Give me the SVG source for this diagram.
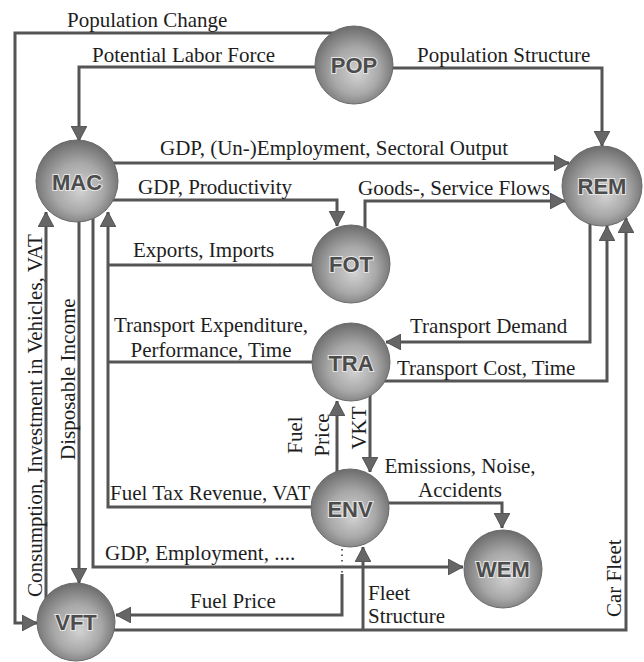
<svg xmlns="http://www.w3.org/2000/svg" width="644" height="662" viewBox="0 0 644 662">
<style>
.c{fill:none;stroke:#555;stroke-width:3}
.d{fill:none;stroke:#666;stroke-width:2;stroke-dasharray:1.5 4}
.t{font-family:"Liberation Serif","Times New Roman",serif;font-size:21px;fill:#1e1e1e}
.n{fill:url(#sph);stroke:#6a6a6a;stroke-width:1}
.l{font-family:"Liberation Sans",Arial,sans-serif;font-size:22px;font-weight:bold;fill:#4c4c4c;stroke:#e6e6e6;stroke-width:2;paint-order:stroke;text-anchor:middle}
</style>
<defs>
<radialGradient id="sph" cx="50%" cy="55%" r="55%" fx="55%" fy="62%">
<stop offset="0" stop-color="#d2d2d2"/>
<stop offset="0.55" stop-color="#a8a8a8"/>
<stop offset="1" stop-color="#6c6c6c"/>
</radialGradient>
<marker id="a" markerUnits="userSpaceOnUse" markerWidth="16" markerHeight="16" refX="15" refY="8" orient="auto">
<path d="M0,0 L15,8 L0,16 Z" fill="#666" stroke="#444" stroke-width="0.8"/>
</marker>
</defs>
<g id="connectors">
<path class="c" d="M354 33 H15 V623 H37" marker-end="url(#a)"/>
<path class="c" d="M354 67 H79 V141" marker-end="url(#a)"/>
<path class="c" d="M354 68 H602 V146" marker-end="url(#a)"/>
<path class="c" d="M77 163 H569" marker-end="url(#a)"/>
<path class="c" d="M77 200 H337 V226" marker-end="url(#a)"/>
<path class="c" d="M365 264 V201 H565" marker-end="url(#a)"/>
<path class="c" d="M351 265 H108"/>
<path class="c" d="M351 362 H108"/>
<path class="c" d="M350 507 H108 V212" marker-end="url(#a)"/>
<path class="c" d="M93 181 V567 H463" marker-end="url(#a)"/>
<path class="c" d="M79 181 V583" marker-end="url(#a)"/>
<path class="c" d="M46 600 V212" marker-end="url(#a)"/>
<path class="c" d="M590 186 V342 H386" marker-end="url(#a)"/>
<path class="c" d="M351 381 H607 V226" marker-end="url(#a)"/>
<path class="c" d="M337 508 V401" marker-end="url(#a)"/>
<path class="c" d="M370 362 V472" marker-end="url(#a)"/>
<path class="c" d="M350 503 H502 V528" marker-end="url(#a)"/>
<path class="d" d="M342 549 V574"/>
<path class="c" d="M342 574 V615 H116" marker-end="url(#a)"/>
<path class="c" d="M76 630 H626 V218" marker-end="url(#a)"/>
<path class="c" d="M363 630 V547" marker-end="url(#a)"/>
</g>
<g id="POP"><circle class="n" cx="354" cy="65" r="39"/><text class="l" x="354" y="73">POP</text></g>
<g id="MAC"><circle class="n" cx="77" cy="181" r="41"/><text class="l" x="77" y="190">MAC</text></g>
<g id="REM"><circle class="n" cx="602" cy="186" r="40"/><text class="l" x="602" y="194">REM</text></g>
<g id="FOT"><circle class="n" cx="351" cy="264" r="39"/><text class="l" x="351" y="272">FOT</text></g>
<g id="TRA"><circle class="n" cx="351" cy="362" r="39"/><text class="l" x="351" y="371">TRA</text></g>
<g id="ENV"><circle class="n" cx="350" cy="508" r="39"/><text class="l" x="350" y="517">ENV</text></g>
<g id="WEM"><circle class="n" cx="503" cy="569" r="39"/><text class="l" x="503" y="577">WEM</text></g>
<g id="VFT"><circle class="n" cx="76" cy="622" r="39"/><text class="l" x="76" y="630">VFT</text></g>
<g id="labels">
<text class="t" x="67" y="27">Population Change</text>
<text class="t" x="92" y="62">Potential Labor Force</text>
<text class="t" x="417" y="62">Population Structure</text>
<text class="t" x="160" y="155">GDP, (Un-)Employment, Sectoral Output</text>
<text class="t" x="138" y="194">GDP, Productivity</text>
<text class="t" x="358" y="195">Goods-, Service Flows</text>
<text class="t" x="133" y="257">Exports, Imports</text>
<text class="t" x="211" y="332" text-anchor="middle">Transport Expenditure,</text>
<text class="t" x="211" y="357" text-anchor="middle">Performance, Time</text>
<text class="t" x="410" y="333">Transport Demand</text>
<text class="t" x="397" y="375">Transport Cost, Time</text>
<text class="t" transform="translate(302 435) rotate(-90)" text-anchor="middle">Fuel</text>
<text class="t" transform="translate(329 435) rotate(-90)" text-anchor="middle">Price</text>
<text class="t" transform="translate(366 428) rotate(-90)" text-anchor="middle">VKT</text>
<text class="t" x="460" y="473" text-anchor="middle">Emissions, Noise,</text>
<text class="t" x="460" y="497" text-anchor="middle">Accidents</text>
<text class="t" x="110" y="500">Fuel Tax Revenue, VAT</text>
<text class="t" x="105" y="560">GDP, Employment, ....</text>
<text class="t" x="190" y="608">Fuel Price</text>
<text class="t" x="368" y="600">Fleet</text>
<text class="t" x="368" y="623">Structure</text>
<text class="t" transform="translate(621 617) rotate(-90)">Car Fleet</text>
<text class="t" transform="translate(42 597) rotate(-90)">Consumption, Investment in Vehicles, VAT</text>
<text class="t" transform="translate(75 460) rotate(-90)">Disposable Income</text>
</g>
</svg>
